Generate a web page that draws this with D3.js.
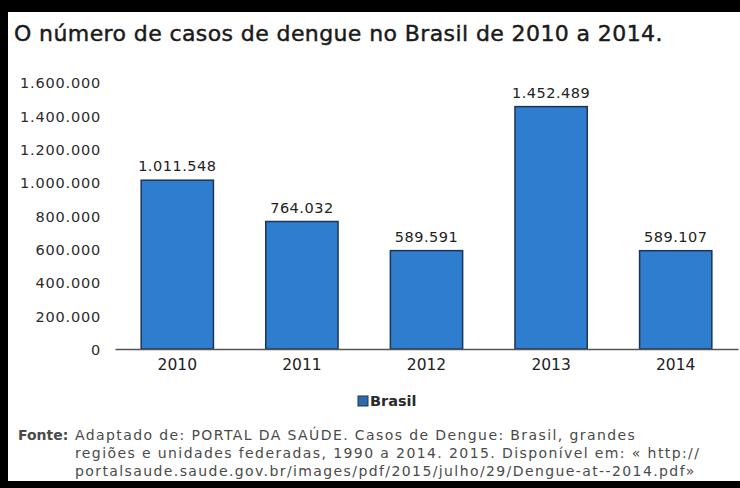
<!DOCTYPE html>
<html>
<head>
<meta charset="utf-8">
<script src="https://cdn.jsdelivr.net/npm/d3@7"></script>
<style>
  body { margin: 0; background: #fff; }
  svg { display: block; font-family: "DejaVu Sans", "Open Sans", sans-serif; }
</style>
</head>
<body>
<svg id="chart" width="740" height="488"></svg>
<script>
"use strict";

const years = ['2010', '2011', '2012', '2013', '2014'];
const cases = [1011548, 764032, 589591, 1452489, 589107];
const yTicks = [0, 200000, 400000, 600000, 800000, 1000000, 1200000, 1400000, 1600000];
const sourceLines = [
  'Adaptado de: PORTAL DA SAÚDE. Casos de Dengue: Brasil, grandes',
  'regiões e unidades federadas, 1990 a 2014. 2015. Disponível em: « http://',
  'portalsaude.saude.gov.br/images/pdf/2015/julho/29/Dengue-at--2014.pdf»'
];

const svg = d3.select('#chart');
const ptBR = d3.formatLocale({ decimal: ',', thousands: '.', grouping: [3], currency: ['R$', ''] });
const fmt = ptBR.format(',d');

// black frame (top, left, bottom) around the picture
svg.append('rect').attr('x', 0).attr('y', 0).attr('width', 740).attr('height', 488).attr('fill', '#000');
svg.append('rect').attr('x', 8).attr('y', 12).attr('width', 732).attr('height', 469).attr('fill', '#fff');

svg.append('text')
   .attr('x', 14).attr('y', 41)
   .attr('font-size', 22)
   .attr('letter-spacing', 0.4)
   .attr('fill', '#1a1a1a')
   .attr('stroke', '#1a1a1a')
   .attr('stroke-width', 0.45)
   .text('O número de casos de dengue no Brasil de 2010 a 2014.');

const x = d3.scaleBand()
            .domain(years)
            .range([115, 738])
            .paddingInner(0.42)
            .paddingOuter(0.21);

const y = d3.scaleLinear()
            .domain([0, 1600000])
            .range([349, 82]);

// y axis labels only, no axis line
const yAxis = svg.append('g')
                 .attr('transform', 'translate(101,1)')
                 .call(d3.axisLeft(y).tickValues(yTicks).tickSize(0).tickPadding(0).tickFormat(fmt));
yAxis.select('.domain').remove();
yAxis.selectAll('text')
     .attr('font-family', '"DejaVu Sans", sans-serif')
     .attr('font-size', 14.5)
     .attr('letter-spacing', 0.8)
     .attr('fill', '#2b2b2b');

// bars
svg.append('g')
   .selectAll('rect')
   .data(cases)
   .enter()
   .append('rect')
   .attr('x', (d, i) => x(years[i]))
   .attr('y', d => y(d))
   .attr('width', x.bandwidth())
   .attr('height', d => y(0) - y(d))
   .attr('fill', '#2e7dcf')
   .attr('stroke', '#1c3555')
   .attr('stroke-width', 1.5);

// value labels above the bars
svg.append('g')
   .selectAll('text')
   .data(cases)
   .enter()
   .append('text')
   .attr('x', (d, i) => x(years[i]) + x.bandwidth() / 2)
   .attr('y', d => y(d) - 9)
   .attr('text-anchor', 'middle')
   .attr('font-size', 14.5)
   .attr('letter-spacing', 0.5)
   .attr('fill', '#222')
   .text(d => fmt(d));

// x axis
const xAxis = svg.append('g')
                 .attr('transform', `translate(0,${y(0)})`)
                 .call(d3.axisBottom(x).tickSize(0).tickPadding(10));
xAxis.select('.domain')
     .attr('stroke', '#555')
     .attr('stroke-width', 1.5);
xAxis.selectAll('text')
     .attr('font-family', '"DejaVu Sans", sans-serif')
     .attr('font-size', 15.5)
     .attr('fill', '#222');

// legend
const legend = svg.append('g').attr('transform', 'translate(358,396)');
legend.append('rect')
      .attr('width', 10).attr('height', 10)
      .attr('fill', '#2e6aa8')
      .attr('stroke', '#1c3555');
legend.append('text')
      .attr('x', 12).attr('y', 10)
      .attr('font-size', 14.5)
      .attr('font-weight', 'bold')
      .attr('fill', '#2a2a2a')
      .text('Brasil');

// source note
const note = svg.append('g').attr('font-size', 14).attr('fill', '#4a4a4a');
note.append('text')
    .attr('x', 18).attr('y', 440)
    .attr('font-weight', 'bold')
    .attr('font-size', 14)
    .text('Fonte:');
note.selectAll('text.line')
    .data(sourceLines)
    .enter()
    .append('text')
    .attr('class', 'line')
    .attr('x', 75)
    .attr('y', (d, i) => 440 + i * 18)
    .attr('letter-spacing', 1.4)
    .text(d => d);
</script>
</body>
</html>
